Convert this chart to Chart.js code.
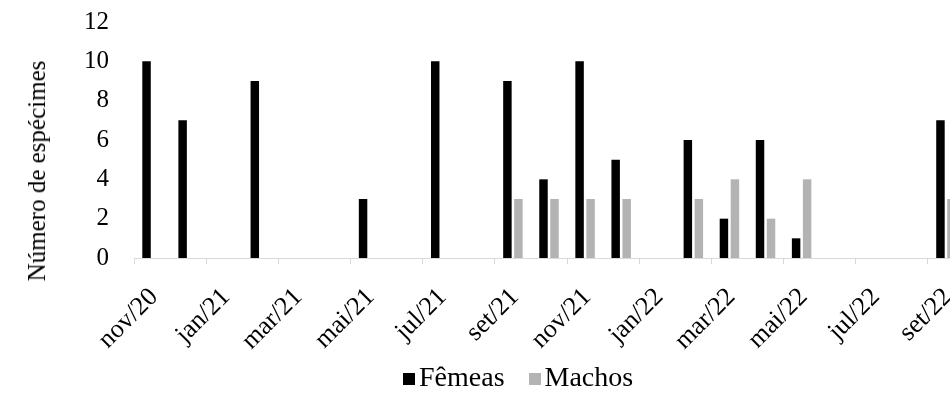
<!DOCTYPE html>
<html>
<head>
<meta charset="utf-8">
<script src="https://cdn.jsdelivr.net/npm/chart.js@4"></script>
<style>
  html, body { margin: 0; padding: 0; background: #fff; overflow: hidden; }
  #wrap { position: relative; width: 980px; height: 394px; }
  #ytitle {
    position: absolute; left: 37px; top: 171px;
    transform: translate(-50%, -50%) rotate(-90deg);
    white-space: nowrap;
    font: 25px 'Liberation Serif', 'Times New Roman', serif;
    color: #000;
  }
  #legend {
    position: absolute; left: 403px; top: 363px;
    font: 28px 'Liberation Serif', 'Times New Roman', serif;
    line-height: 28px; white-space: nowrap; color: #000;
  }
  #legend .box { display: inline-block; width: 12px; height: 12px; margin-right: 4px; vertical-align: 1px; }
  #legend .item { margin-right: 24px; }
</style>
</head>
<body>
<div id="wrap">
  <canvas id="chart"></canvas>
  <div id="ytitle">Número de espécimes</div>
  <div id="legend">
    <span class="item"><span class="box" style="background:#000"></span>Fêmeas</span><span><span class="box" style="background:#b3b3b3"></span>Machos</span>
  </div>
</div>
<script>
// Months from nov/20 to set/22 (one slot per month)
const months = ['nov/20', 'dez/20', 'jan/21', 'fev/21', 'mar/21', 'abr/21', 'mai/21', 'jun/21',
  'jul/21', 'ago/21', 'set/21', 'out/21', 'nov/21', 'dez/21', 'jan/22', 'fev/22', 'mar/22',
  'abr/22', 'mai/22', 'jun/22', 'jul/22', 'ago/22', 'set/22'];

// Specimens per month (null = no sample)
const femeas = [10, 7, null, 9, null, null, 3, null, 10, null, 9, 4, 10, 5, null, 6, 2, 6, 1, null, null, null, 7];
const machos = [0, 0, null, 0, null, null, 0, null, 0, null, 3, 3, 3, 3, null, 3, 4, 2, 4, null, null, null, 3];

const yTicks = [0, 2, 4, 6, 8, 10, 12];

const FONT = "'Liberation Serif', 'Times New Roman', serif";
const AXIS_GRAY = '#d9d9d9';

new Chart(document.getElementById('chart'), {
  type: 'bar',
  data: {
    labels: months,
    datasets: [
      {
        label: 'Fêmeas',
        data: femeas,
        backgroundColor: '#000000',
        categoryPercentage: 0.61,
        barPercentage: 0.77
      },
      {
        label: 'Machos',
        data: machos,
        backgroundColor: '#b3b3b3',
        categoryPercentage: 0.61,
        barPercentage: 0.77
      }
    ]
  },
  options: {
    responsive: true,
    maintainAspectRatio: false,
    animation: false,
    layout: {
      padding: { left: 18, top: 22, right: 16, bottom: 0 }
    },
    plugins: {
      legend: { display: false }, // legend is in the HTML
      tooltip: { enabled: false }
    },
    scales: {
      x: {
        offset: true,
        grid: {
          offset: true,
          drawOnChartArea: false,
          tickLength: 6,
          color: (ctx) => (ctx.index % 2 === 0 ? AXIS_GRAY : 'rgba(0,0,0,0)')
        },
        border: { color: AXIS_GRAY, width: 1 },
        ticks: {
          autoSkip: false,
          minRotation: 45,
          maxRotation: 45,
          labelOffset: 2,
          padding: 18,
          color: '#000',
          font: { family: FONT, size: 26 },
          callback: (value, index) => (index % 2 === 0 ? months[index] : '')
        },
        afterFit: (scale) => {
          scale.height = 136;
          scale.paddingLeft = 0;
          scale.paddingRight = 0;
        }
      },
      y: {
        min: 0,
        max: 12,
        grid: { display: false, drawTicks: false },
        border: { display: false },
        afterBuildTicks: (scale) => { scale.ticks = yTicks.map(v => ({ value: v })); },
        ticks: {
          padding: 25,
          color: '#000',
          font: { family: FONT, size: 25 }
        },
        afterFit: (scale) => {
          scale.width = 116;
          scale.paddingTop = 0;
          scale.paddingBottom = 0;
        }
      }
    }
  }
});
</script>
</body>
</html>
